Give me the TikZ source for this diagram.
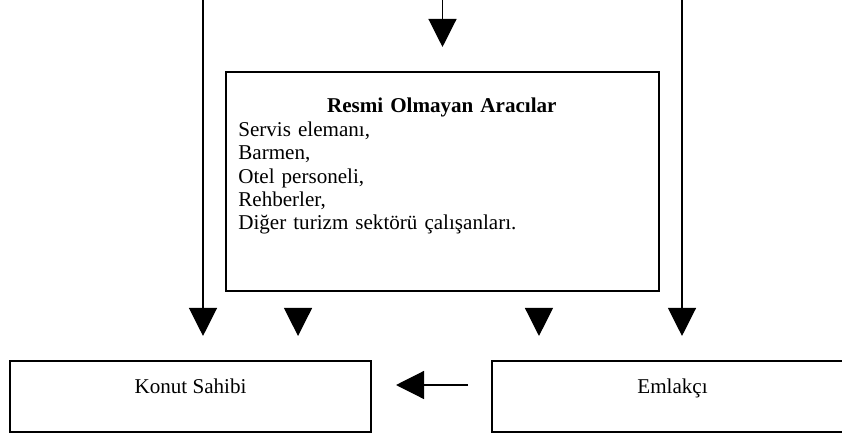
\documentclass[tikz,border=0pt]{standalone}
\usepackage{fontspec}
\setmainfont{Liberation Serif}
\usetikzlibrary{arrows.meta,positioning}

\begin{document}
\begin{tikzpicture}[
    x=0.02cm, y=-0.02cm,
    every node/.style={font=\fontsize{12pt}{13.3pt}\selectfont},
    box/.style={rectangle, draw, line width=1.2pt},
    block/.style={box, minimum width=7.22cm, minimum height=1.42cm, text height=8pt, text depth=11pt},
    line/.style={draw, line width=0.7pt, -{Triangle[length=16pt,width=16pt]}, shorten >=0.48cm}
]
\useasboundingbox (0,0) rectangle (842,439);

% Incoming lines
\coordinate (sol) at (203,0);
\coordinate (orta) at (442.5,0);
\coordinate (sag) at (682,0);

% Informal intermediaries
\node[box, minimum width=8.66cm, minimum height=4.38cm] (aracilar) at (442.5,181.5) {};
\node[below right=0.54cm and 0.26cm of aracilar.north west, inner sep=0, text width=8.14cm, align=left] (liste) {\makebox[\linewidth]{\textbf{Resmi Olmayan Aracılar}}\\
Servis elemanı,\\
Barmen,\\
Otel personeli,\\
Rehberler,\\
Diğer turizm sektörü çalışanları.};

% Bottom row
\node[block] (konut) at (190.5,396.5) {Konut Sahibi};
\node[block, right=2.38cm of konut] (emlak) {Emlakçı};

\coordinate (solalt) at ([xshift=-2.89cm]aracilar.south);
\coordinate (sagalt) at ([xshift=1.93cm]aracilar.south);

% Connections
\path [line] (orta) -- (aracilar.north);
\path [line] (sol) -- (sol |- konut.north);
\path [line] (sag) -- (sag |- emlak.north);
\path [line, shorten <=0.36cm] (solalt) -- (solalt |- konut.north);
\path [line, shorten <=0.36cm] (sagalt) -- (sagalt |- emlak.north);
\path [line, shorten <=0.46cm] ([yshift=0.23cm]emlak.west) -- ([yshift=0.23cm]konut.east);

\end{tikzpicture}
\end{document}
